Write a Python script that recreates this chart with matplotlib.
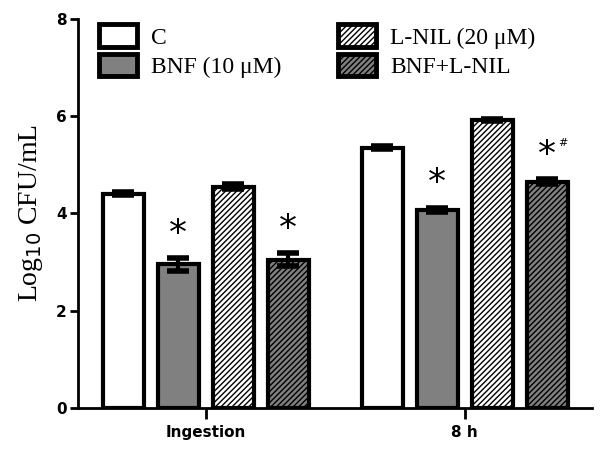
import numpy as np
import matplotlib.pyplot as plt
from matplotlib.patches import Patch

# values
groups = ['Ingestion', '8 h']
series = ['C', 'BNF (10 \u03bcM)', 'L-NIL (20 \u03bcM)', 'BNF+L-NIL']
ingestion = [4.40, 2.95, 4.55, 3.05]
eight_h = [5.35, 4.07, 5.92, 4.65]
ingestion_err = [0.03, 0.13, 0.05, 0.13]
eight_h_err = [0.03, 0.05, 0.03, 0.05]
marks_ingestion = ['', '*', '', '*']
marks_8h = ['', '*', '', '*']
hash_8h = [False, False, False, True]

fills = ['white', '#808080', 'white', '#808080']
hatches = [None, None, '//////', '//////']

plt.rcParams['hatch.linewidth'] = 1.0

fig = plt.figure(figsize=(6, 4.5), dpi=100)
ax = fig.add_axes([0.13, 0.0933, 0.857, 0.865])

pitch = 1.0
width = 0.745
centers = np.array([0.0, 4.71])
offsets = (np.arange(4) - 1.5) * pitch

values = [ingestion, eight_h]
errors = [ingestion_err, eight_h_err]

for g, c in enumerate(centers):
    for i in range(4):
        x = c + offsets[i]
        ax.bar(x, values[g][i], width=width, color=fills[i], edgecolor='black',
               linewidth=3, hatch=hatches[i], zorder=2)
        ax.errorbar(x, values[g][i], yerr=errors[g][i], fmt='none', ecolor='black',
                    elinewidth=3, capsize=8, capthick=4, zorder=3)

# significance marks
for g, marks in enumerate([marks_ingestion, marks_8h]):
    for i, m in enumerate(marks):
        if not m:
            continue
        x = centers[g] + offsets[i]
        y = values[g][i] + errors[g][i] + 0.15
        ax.text(x, y, m, ha='center', va='bottom', fontsize=26,
                family='DejaVu Sans', zorder=4)
        if g == 1 and hash_8h[i]:
            ax.text(x + 0.2, y + 0.5, '#', ha='left', va='bottom',
                    fontsize=8, family='DejaVu Sans', zorder=4)

ax.set_xlim(-2.32, 7.03)
ax.set_ylim(0, 8)
ax.set_yticks([0, 2, 4, 6, 8])
ax.set_xticks(centers)
ax.set_xticklabels(groups)

for lab in ax.get_xticklabels() + ax.get_yticklabels():
    lab.set_fontweight('bold')
    lab.set_fontsize(11)

ax.spines['top'].set_visible(False)
ax.spines['right'].set_visible(False)
ax.spines['left'].set_linewidth(2)
ax.spines['bottom'].set_linewidth(2)
ax.tick_params(axis='y', direction='out', length=6, width=2, pad=2)
ax.tick_params(axis='x', direction='out', length=8, width=2, pad=4)

ax.set_ylabel('Log$_{10}$ CFU/mL', family='Liberation Serif', fontsize=20,
              labelpad=8)

handles = [Patch(facecolor=fills[i], edgecolor='black', linewidth=3.5,
                 hatch=hatches[i]) for i in range(4)]
leg = ax.legend(handles, series, ncol=2, loc='upper left',
                bbox_to_anchor=(0.0, 1.04), frameon=False,
                prop={'family': 'Liberation Serif', 'size': 17},
                handlelength=1.6, handleheight=1.1, handletextpad=0.6,
                columnspacing=2.4, labelspacing=0.2)

fig.savefig('out.png', dpi=100)
